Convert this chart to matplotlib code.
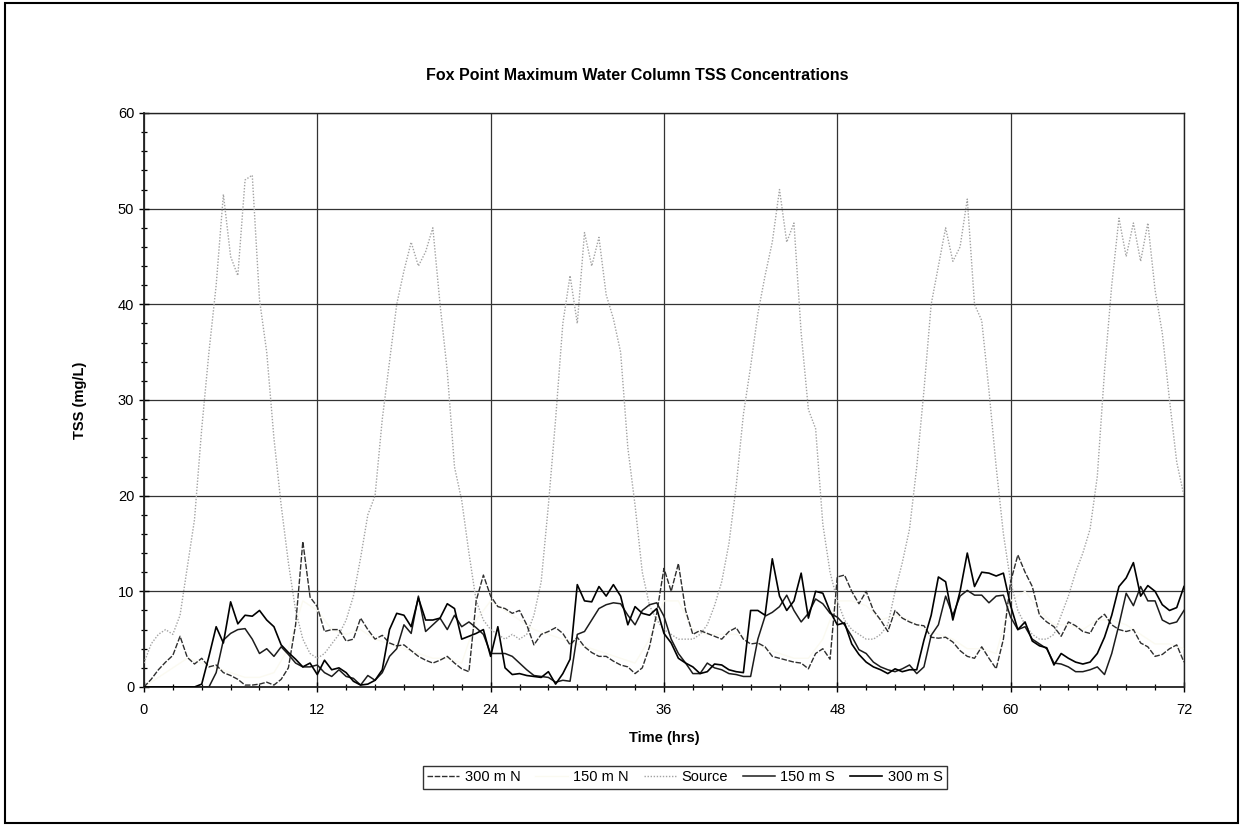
import numpy as np
import matplotlib
matplotlib.use("Agg")
import matplotlib.pyplot as plt
from matplotlib.patches import Rectangle
from matplotlib.ticker import MultipleLocator

plt.rcParams['font.family'] = ['Liberation Sans', 'DejaVu Sans']

# time axis, half-hour output steps
hours = np.arange(0, 72.5, 0.5)
hours_hourly = np.arange(0, 73, 1)

source = [2.5, 4.5, 5.5, 6, 5.5, 7.5, 12.5, 17.5, 27, 35, 42, 51.5, 45, 43, 53, 53.5, 40.5, 35, 26, 19, 13, 8, 5, 3.5,
          3, 3.5, 4.5, 5.5, 7, 9.5, 13.5, 18, 20, 28, 34, 40, 43.5, 46.5, 44, 45.5, 48, 40, 33, 23, 19.5, 14, 9, 7,
          6, 5.5, 5, 5.5, 5, 5.5, 7.5, 11, 19, 28, 38, 43, 38, 47.5, 44, 47, 41, 38.5, 35, 25, 19, 12, 8.5, 7,
          6, 5.5, 5, 5, 5, 5.5, 6.5, 8.5, 11, 15, 21, 28.5, 33.5, 39, 43, 46.5, 52, 46.5, 48.5, 37, 29, 27, 17, 12,
          9, 7, 6, 5.5, 5, 5, 5.5, 6.5, 10, 13, 16.5, 23, 31, 40, 44, 48, 44.5, 46, 51, 40, 38.3, 31, 23, 16,
          11, 8, 6.5, 5.5, 5, 5, 5.5, 7.5, 9.5, 12, 14, 16.5, 22, 33, 42, 49, 45, 48.5, 44.5, 48.5, 41.5, 37, 30, 23.5,
          20]

n300 = [0, 0.8, 1.8, 2.6, 3.3, 5.3, 3.1, 2.4, 3.0, 2.1, 2.3, 1.5, 1.2, 0.8, 0.2, 0.2, 0.3, 0.5, 0.2, 0.8, 2.0, 6.5, 15.2, 9.4,
        8.4, 5.8, 6, 6, 4.8, 5, 7.2, 6, 5, 5.4, 4.6, 4.3, 4.4, 3.8, 3.2, 2.8, 2.5, 2.8, 3.2, 2.5, 1.9, 1.6, 9, 11.7,
        9.5, 8.4, 8.2, 7.7, 8, 6.5, 4.4, 5.5, 5.8, 6.2, 5.6, 4.4, 5.2, 4.2, 3.6, 3.2, 3.2, 2.7, 2.3, 2.1, 1.4, 2, 4.2, 7.7,
        12.4, 10, 12.9, 8, 5.5, 5.9, 5.6, 5.3, 5, 5.8, 6.2, 5, 4.5, 4.6, 4.2, 3.2, 3, 2.8, 2.6, 2.5, 1.9, 3.5, 4, 2.9,
        11.5, 11.7, 10, 8.7, 10, 8, 7, 5.8, 8, 7.2, 6.8, 6.5, 6.4, 5.2, 5.1, 5.2, 4.7, 3.8, 3.2, 3, 4.2, 3, 1.9, 5,
        11, 13.8, 12, 10.5, 7.5, 6.8, 6.3, 5.3, 6.8, 6.4, 5.8, 5.6, 7, 7.6, 6.5, 6, 5.8, 6, 4.6, 4.2, 3.2, 3.4, 4, 4.4,
        2.6]

# 150 m N is barely visible in the scan (pale trace), read roughly per hour
n150 = [0, 1, 2, 3, 2.5, 2, 1.5, 1, 1, 1.5, 4, 9, 8, 6, 5.5, 6, 5, 4.5, 4, 3.5, 3, 3, 2.5, 7,
        9, 8, 7, 6, 5.5, 5, 4.5, 4, 3.5, 3, 2.5, 5, 9, 9, 6, 5.5, 5.5, 5.5, 5, 4, 3.5, 3, 3, 5,
        9, 9, 8.5, 7, 7.5, 7, 6, 5.5, 5, 4, 4, 3.5, 9, 10, 8, 6.5, 6.5, 6, 7, 7, 6.5, 5.5, 4.5, 4.5, 4]

s150 = [0, 0, 0, 0, 0, 0, 0, 0, 0, 0, 1.5, 4.9, 5.6, 6, 6.1, 5, 3.5, 4, 3.2, 4.2, 3.4, 2.5, 2.1, 2.1,
        2.3, 1.5, 1.1, 1.8, 1.1, 0.9, 0.2, 1.2, 0.7, 1.5, 3.2, 4, 6.5, 5.6, 9.5, 5.8, 6.5, 7.2, 6, 7.5, 6.3, 6.8, 6.2, 5.5,
        3.5, 3.5, 3.5, 3.2, 2.5, 1.8, 1.2, 1.1, 1, 0.5, 0.7, 0.6, 5.5, 5.8, 7, 8.2, 8.6, 8.8, 8.7, 7.5, 6.5, 8, 8.6, 8.8,
        7.4, 5, 3.5, 2.5, 1.4, 1.4, 2.5, 2, 1.8, 1.4, 1.3, 1.1, 1.1, 5, 7.4, 7.8, 8.4, 9.6, 8, 6.8, 7.7, 9.2, 8.7, 7.7,
        7.3, 6.5, 5.3, 3.9, 3.5, 2.6, 2.1, 1.8, 1.6, 1.9, 2.3, 1.4, 2.1, 5.4, 6.5, 9.5, 7.5, 9.5, 10.1, 9.6, 9.6, 8.8, 9.5, 9.6,
        7.3, 6, 6.3, 5, 4.5, 4, 2.5, 2.4, 2.1, 1.6, 1.6, 1.8, 2.1, 1.3, 3.5, 6.5, 9.8, 8.5, 10.5, 9, 9, 7, 6.6, 6.8,
        8]

s300 = [0, 0, 0, 0, 0, 0, 0, 0, 0.3, 3.2, 6.3, 4.6, 8.9, 6.6, 7.5, 7.4, 8.0, 7.0, 6.3, 4.4, 3.6, 2.9, 2.1, 2.5,
        1.3, 2.8, 1.8, 2.0, 1.5, 0.6, 0.2, 0.3, 0.7, 1.8, 6, 7.7, 7.5, 6.3, 9.3, 7, 7, 7.2, 8.7, 8.2, 5, 5.3, 5.6, 6,
        3.2, 6.3, 2, 1.3, 1.4, 1.2, 1.1, 1, 1.6, 0.3, 1.4, 2.9, 10.7, 9, 8.9, 10.5, 9.5, 10.7, 9.5, 6.5, 8.4, 7.7, 7.5, 8.2,
        5.6, 4.6, 3, 2.5, 2.1, 1.4, 1.6, 2.4, 2.3, 1.8, 1.6, 1.5, 8, 8, 7.5, 13.4, 9.5, 8, 9, 11.9, 7.2, 10, 9.8, 7.9,
        6.5, 6.7, 4.5, 3.4, 2.6, 2.1, 1.8, 1.4, 1.9, 1.6, 1.8, 1.8, 4.9, 7.5, 11.5, 11, 7, 10, 14, 10.5, 12, 11.9, 11.6, 11.9,
        8.5, 6, 6.8, 4.8, 4.3, 4.1, 2.3, 3.5, 3, 2.6, 2.4, 2.6, 3.5, 5.2, 7.5, 10.5, 11.4, 13, 9.5, 10.6, 10, 8.6, 8, 8.3,
        10.5]

fig = plt.figure(figsize=(12.43, 8.26), dpi=100)
ax = fig.add_axes([0.1158, 0.1683, 0.8367, 0.6949])

# draw order: pale 150 m N underneath everything
ax.plot(hours_hourly, n150, color='#fbfaf1', lw=1.0, zorder=2)
ax.plot(hours, source, color='#a3a3a3', lw=1.0, ls=(0, (1, 1.2)), zorder=3)
ax.plot(hours, n300, color='#2e2e2e', lw=1.0, ls=(0, (4, 1.2)), zorder=4)
ax.plot(hours, s150, color='#1c1c1c', lw=1.1, zorder=5)
ax.plot(hours, s300, color='#000000', lw=1.2, zorder=6)

ax.set_xlim(0, 72)
ax.set_ylim(0, 60)
ax.xaxis.set_major_locator(MultipleLocator(12))
ax.xaxis.set_minor_locator(MultipleLocator(2))
ax.yaxis.set_major_locator(MultipleLocator(10))
ax.yaxis.set_minor_locator(MultipleLocator(2))
ax.tick_params(which='both', direction='inout', colors='black', labelsize=10.5)
ax.tick_params(which='major', length=7, width=1)
ax.tick_params(which='minor', length=5, width=0.9)
ax.tick_params(axis='x', pad=8)
ax.grid(True, which='major', color='#333333', lw=0.9)
for sp in ax.spines.values():
    sp.set_color('#222222')
    sp.set_linewidth(1.0)
ax.spines['left'].set_linewidth(1.3)
ax.spines['bottom'].set_linewidth(1.3)

ax.set_xlabel('Time (hrs)', fontsize=10.5, fontweight='bold', labelpad=10)
ax.set_ylabel('TSS (mg/L)', fontsize=10.5, fontweight='bold', labelpad=22)
fig.text(0.513, 0.909, 'Fox Point Maximum Water Column TSS Concentrations',
         ha='center', va='center', fontsize=11.5, fontweight='bold')

# legend entries from the drawn lines, in the reference order
lines = ax.get_lines()
labels = ['150 m N', 'Source', '300 m N', '150 m S', '300 m S']
order = [2, 0, 1, 3, 4]
leg = fig.legend([lines[i] for i in order], [labels[i] for i in order],
                 loc='center', bbox_to_anchor=(0.551, 0.059), ncol=5,
                 fontsize=10.5, frameon=True, fancybox=False, edgecolor='black',
                 handlelength=2.2, columnspacing=1.0, handletextpad=0.4, borderpad=0.3)
leg.get_frame().set_linewidth(1.0)

# outer frame of the chart area
fig.patches.append(Rectangle((0.004, 0.004), 0.992, 0.992, transform=fig.transFigure,
                             fill=False, edgecolor='black', lw=1.5))

fig.savefig('out.png', dpi=100)
